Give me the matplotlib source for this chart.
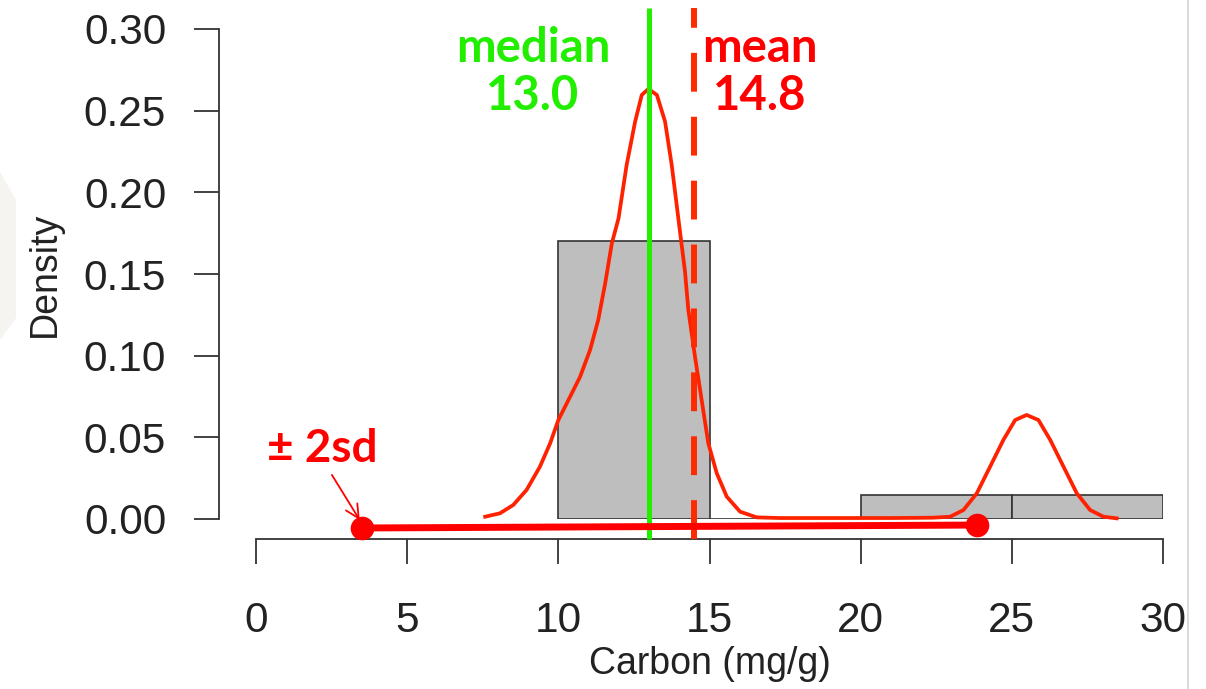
import numpy as np
import matplotlib
matplotlib.use("Agg")
import matplotlib.pyplot as plt
from matplotlib.lines import Line2D
from matplotlib.patches import Polygon

# histogram (density scale)
bin_edges = [10, 15, 20, 25, 30]
bin_density = [0.17, 0.0, 0.015, 0.015]

# density curve
curve_x = [7.58, 8.07, 8.51, 8.95, 9.39, 9.73, 10.0, 10.39, 10.72, 11.05,
           11.32, 11.55, 11.77, 11.99, 12.26, 12.54, 12.76, 12.98, 13.26, 13.53,
           13.75, 13.97, 14.19, 14.30, 14.52, 14.74, 14.96, 15.24, 15.57, 16.01,
           16.56, 17.33, 19.0, 21.0, 22.4, 22.96, 23.40, 23.84, 24.28, 24.72,
           25.11, 25.49, 25.88, 26.27, 26.71, 27.15, 27.59, 28.03, 28.47]
curve_y = [0.0014, 0.0035, 0.0086, 0.0178, 0.032, 0.0464, 0.0606, 0.0749, 0.0871, 0.1035,
           0.1219, 0.1443, 0.1688, 0.184, 0.2168, 0.2433, 0.2596, 0.2633, 0.2596, 0.2433,
           0.2168, 0.184, 0.1514, 0.128, 0.0994, 0.0729, 0.0464, 0.028, 0.0137, 0.0045,
           0.001, 0.0006, 0.0006, 0.0006, 0.0008, 0.0014, 0.0055, 0.0157, 0.032, 0.0484,
           0.0606, 0.0637, 0.0606, 0.0484, 0.032, 0.0157, 0.0055, 0.0014, 0.0004]

median_x = 13.0
mean_x = 14.5
median_label = "median\n13.0"
mean_label = "mean\n14.8"
sd_x = [3.5, 23.85]
sd_y = [-0.0055, -0.0037]

x_ticks = [0, 5, 10, 15, 20, 25, 30]
y_ticks = [0.00, 0.05, 0.10, 0.15, 0.20, 0.25, 0.30]

W, H = 1206, 689
fig = plt.figure(figsize=(W / 100, H / 100), dpi=100)
ax = fig.add_axes([256 / W, 1 - 519 / H, (1163 - 256) / W, (519 - 29) / H])
ax.set_xlim(0, 30)
ax.set_ylim(0, 0.30)

gray_txt = "#222222"
axis_col = "#333333"

# bars
widths = np.diff(bin_edges)
ax.bar(bin_edges[:-1], bin_density, width=widths, align="edge",
       color="#bebebe", edgecolor=axis_col, linewidth=1.2, zorder=2)

# density curve
ax.plot(curve_x, curve_y, color="#ff2200", lw=2.7, zorder=3, clip_on=False,
        solid_joinstyle="round")

# median and mean lines
ax.plot([median_x, median_x], [-0.0122, 0.313], color="#22ee00", lw=3.6,
        zorder=4, clip_on=False, solid_capstyle="butt")
ax.plot([mean_x, mean_x], [-0.0122, 0.313], color="#ff2a00", lw=4.3,
        dashes=(6.5, 4.2), zorder=4, clip_on=False, dash_capstyle="butt")

# +/- 2sd line
ax.plot(sd_x, sd_y, color="#ff0000", lw=5, marker="o", markersize=16,
        zorder=5, clip_on=False, solid_capstyle="butt")

# labels on the plot
tfont = ["Lato", "DejaVu Sans"]
ax.text(9.16, 0.2735, median_label, color="#22ee00", fontsize=34, fontweight="bold",
        family=tfont, ha="center", va="center", linespacing=1.12)
ax.text(16.67, 0.2735, mean_label, color="#ff0000", fontsize=34, fontweight="bold",
        family=tfont, ha="center", va="center", linespacing=1.12)
ax.text(2.18, 0.0430, "± 2sd", color="#ff0000", fontsize=33, fontweight="bold",
        family=tfont, ha="center", va="center")
ax.annotate("", xy=(3.43, -0.0006), xytext=(2.51, 0.027),
            arrowprops=dict(arrowstyle="->", color="#ff0000", lw=1.3,
                            mutation_scale=24, shrinkA=0, shrinkB=0),
            annotation_clip=False)

# R style axes
for s in ["top", "right"]:
    ax.spines[s].set_visible(False)
ax.spines["left"].set_position(("outward", 37 * 0.72))
ax.spines["bottom"].set_position(("outward", 20 * 0.72))
ax.spines["left"].set_bounds(0, 0.30)
ax.spines["bottom"].set_bounds(0, 30)
for s in ["left", "bottom"]:
    ax.spines[s].set_color(axis_col)
    ax.spines[s].set_linewidth(1.3)

ax.set_xticks(x_ticks)
ax.set_yticks(y_ticks)
ax.set_yticklabels(["%.2f" % v for v in y_ticks])
ax.tick_params(axis="both", length=18, width=1.3, color=axis_col,
               labelsize=30.5, labelcolor=gray_txt)
ax.tick_params(axis="x", pad=26.5)
ax.tick_params(axis="y", pad=20)
for lab in ax.get_xticklabels() + ax.get_yticklabels():
    lab.set_family(["Liberation Sans", "DejaVu Sans"])

ax.set_xlabel("Carbon (mg/g)", fontsize=27, color=gray_txt,
              family=["Liberation Sans", "DejaVu Sans"], labelpad=4)
ax.set_ylabel("Density", fontsize=27, color=gray_txt,
              family=["Liberation Sans", "DejaVu Sans"], labelpad=15)

# faint slide decoration
fig.add_artist(Polygon([[0, 1 - 172 / H], [16 / W, 1 - 200 / H],
                        [16 / W, 1 - 318 / H], [0, 1 - 340 / H]],
                       closed=True, transform=fig.transFigure,
                       facecolor="#f5f4f1", edgecolor="none", zorder=0))
fig.add_artist(Line2D([1188 / W, 1188 / W], [0, 1], transform=fig.transFigure,
                      color="#d4d4d4", lw=1.2))

fig.savefig("out.png", dpi=100)
